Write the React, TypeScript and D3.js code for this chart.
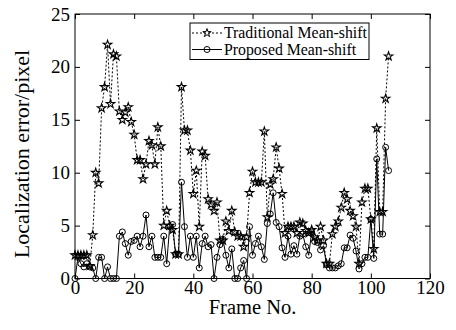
import React from "react";
import * as d3 from "d3";

// localization error per frame
const traditional = [
  2.2, 2.2, 2.2, 2.2, 2.2, 1.2, 4.1, 10.0, 9.0, 16.1,
  18.1, 22.1, 16.5, 21.2, 21.0, 15.8, 15.0, 15.7, 16.2, 14.8,
  13.6, 11.2, 11.2, 9.4, 10.8, 13.0, 12.6, 10.8, 14.3, 12.5,
  5.0, 6.4, 5.0, 4.6, 2.3, 2.3, 18.1, 14.0, 14.0, 12.1,
  8.0, 10.2, 4.9, 12.0, 11.6, 7.5, 7.0, 6.4, 7.2, 3.6,
  3.6, 5.4, 4.5, 6.4, 4.4, 4.0, 4.0, 3.0, 3.9, 8.1,
  10.1, 9.1, 9.1, 9.1, 13.9, 5.8, 8.9, 9.4, 12.4, 10.4,
  8.0, 4.3, 4.9, 4.9, 4.9, 4.3, 5.3, 5.2, 4.5, 4.3,
  4.6, 3.9, 3.6, 4.9, 3.6, 1.4, 1.4, 4.2, 4.9, 5.4,
  6.7, 8.1, 7.5, 6.4, 5.9, 4.9, 1.4, 7.2, 8.5, 8.5,
  5.6, 2.8, 14.2, 6.3, 6.3, 17.0, 21.0,
];

const proposed = [
  0, 2.0, 1.4, 1.1, 1.4, 1.1, 1.0, 0, 2.0, 2.0,
  0, 1.1, 0, 0, 0, 4.0, 4.4, 3.3, 2.2, 3.5,
  3.6, 4.0, 3.0, 4.0, 6.0, 3.0, 4.0, 2.0, 2.0, 2.0,
  4.0, 1.4, 4.9, 5.1, 2.3, 2.3, 9.1, 4.9, 2.0, 4.0,
  2.0, 4.0, 1.0, 3.3, 4.0, 3.0, 3.2, 0, 2.0, 3.2,
  3.7, 2.2, 1.0, 2.8, 0, 0, 1.0, 1.7, 0, 4.9,
  2.2, 3.3, 4.0, 3.0, 1.8, 5.2, 6.1, 8.1, 5.3, 4.9,
  2.9, 2.0, 4.0, 2.3, 3.1, 2.3, 4.0, 4.2, 3.0, 2.2,
  4.4, 3.5, 3.4, 2.7, 3.1, 1.3, 1.0, 1.0, 1.0, 1.2,
  1.4, 2.9, 2.9, 4.1, 3.8, 2.6, 0.9, 1.4, 2.0, 2.0,
  5.6, 1.9, 11.3, 4.2, 4.2, 12.4, 10.2,
];

const xTicks = [0, 20, 40, 60, 80, 100, 120];
const yTicks = [0, 5, 10, 15, 20, 25];
const seriesNames = ["Traditional Mean-shift", "Proposed Mean-shift"];

const width = 456;
const height = 330;
const margin = { top: 14, right: 26, bottom: 51.5, left: 75 };
const font = "'Liberation Serif', 'Times New Roman', serif";

function drawChart(svg) {
  svg.selectAll("*").remove();

  const x = d3
    .scaleLinear()
    .domain([0, 120])
    .range([margin.left, width - margin.right]);

  const y = d3
    .scaleLinear()
    .domain([0, 25])
    .range([height - margin.bottom, margin.top]);

  const tickLen = 5;

  // box
  svg
    .append("rect")
    .attr("x", x(0))
    .attr("y", y(25))
    .attr("width", x(120) - x(0))
    .attr("height", y(0) - y(25))
    .attr("fill", "none")
    .attr("stroke", "#000")
    .attr("stroke-width", 1);

  // inward ticks on all sides
  const xAxisB = (g) =>
    g
      .attr("transform", `translate(0,${y(0)})`)
      .call(d3.axisBottom(x).tickValues(xTicks).tickSizeInner(-tickLen).tickSizeOuter(0).tickPadding(1.5))
      .call((g) => g.select(".domain").remove());
  const xAxisT = (g) =>
    g
      .attr("transform", `translate(0,${y(25)})`)
      .call(d3.axisTop(x).tickValues(xTicks).tickSizeInner(-tickLen).tickSizeOuter(0).tickFormat(() => ""))
      .call((g) => g.select(".domain").remove());
  const yAxisL = (g) =>
    g
      .attr("transform", `translate(${x(0)},0)`)
      .call(d3.axisLeft(y).tickValues(yTicks).tickSizeInner(-tickLen).tickSizeOuter(0).tickPadding(5))
      .call((g) => g.select(".domain").remove());
  const yAxisR = (g) =>
    g
      .attr("transform", `translate(${x(120)},0)`)
      .call(d3.axisRight(y).tickValues(yTicks).tickSizeInner(-tickLen).tickSizeOuter(0).tickFormat(() => ""))
      .call((g) => g.select(".domain").remove());

  svg.append("g").call(xAxisB);
  svg.append("g").call(xAxisT);
  svg.append("g").call(yAxisL);
  svg.append("g").call(yAxisR);

  svg
    .selectAll(".tick text")
    .attr("font-family", font)
    .attr("font-size", 19)
    .attr("fill", "#000");
  svg.selectAll(".tick line").attr("stroke", "#000");

  // axis titles
  svg
    .append("text")
    .attr("x", x(60))
    .attr("y", 313.5)
    .attr("text-anchor", "middle")
    .attr("font-family", font)
    .attr("font-size", 20.5)
    .text("Frame No.");

  svg
    .append("text")
    .attr("transform", `translate(29,154) rotate(-90)`)
    .attr("text-anchor", "middle")
    .attr("font-family", font)
    .attr("font-size", 22)
    .text("Localization error/pixel");

  const line = d3
    .line()
    .x((d, i) => x(i))
    .y((d) => y(d));

  const star = d3.symbol().type(d3.symbolStar).size(22);

  // traditional: dotted with stars
  svg
    .append("path")
    .datum(traditional)
    .attr("fill", "none")
    .attr("stroke", "#000")
    .attr("stroke-width", 1)
    .attr("stroke-dasharray", "2,2")
    .attr("d", line);

  svg
    .append("g")
    .selectAll("path")
    .data(traditional)
    .join("path")
    .attr("transform", (d, i) => `translate(${x(i)},${y(d)})`)
    .attr("d", star)
    .attr("fill", "none")
    .attr("stroke", "#000")
    .attr("stroke-width", 1.1);

  // proposed: solid with circles
  svg
    .append("path")
    .datum(proposed)
    .attr("fill", "none")
    .attr("stroke", "#000")
    .attr("stroke-width", 1)
    .attr("d", line);

  svg
    .append("g")
    .selectAll("circle")
    .data(proposed)
    .join("circle")
    .attr("cx", (d, i) => x(i))
    .attr("cy", (d) => y(d))
    .attr("r", 3)
    .attr("fill", "none")
    .attr("stroke", "#000")
    .attr("stroke-width", 1);

  // legend
  const lg = svg.append("g").attr("transform", "translate(190,23)");
  lg.append("rect")
    .attr("width", 179)
    .attr("height", 36.5)
    .attr("fill", "#fff")
    .attr("stroke", "#000")
    .attr("stroke-width", 1);

  seriesNames.forEach((name, i) => {
    const row = lg.append("g").attr("transform", `translate(0,${10 + i * 16.5})`);
    row
      .append("line")
      .attr("x1", 2)
      .attr("x2", 32)
      .attr("stroke", "#000")
      .attr("stroke-width", 1)
      .attr("stroke-dasharray", i === 0 ? "2,2" : null);
    if (i === 0) {
      row.append("path").attr("transform", "translate(17,0)").attr("d", star).attr("fill", "none").attr("stroke", "#000");
    } else {
      row.append("circle").attr("cx", 17).attr("r", 3).attr("fill", "none").attr("stroke", "#000");
    }
    row
      .append("text")
      .attr("x", 34)
      .attr("y", 5)
      .attr("font-family", font)
      .attr("font-size", 15.8)
      .text(name);
  });

  return svg.node();
}

function LineChart() {
  const ref = React.useRef(null);
  React.useEffect(() => {
    drawChart(d3.select(ref.current));
  }, []);

  return (
    <svg
      ref={ref}
      width={width}
      height={height}
      style={{ position: "absolute", left: 0, top: 0, background: "#fff" }}
    />
  );
}

export default function App() {
  return <LineChart />;
}
